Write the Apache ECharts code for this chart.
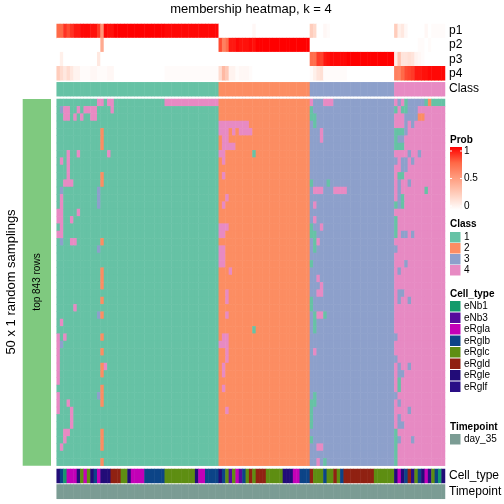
<!DOCTYPE html>
<html><head><meta charset="utf-8">
<script src="https://cdn.jsdelivr.net/npm/echarts/dist/echarts.min.js"></script>
<style>html,body{margin:0;padding:0;background:#fff}#c{width:504px;height:504px}</style>
</head><body><div id="c"></div>
<script>
// ---------- data ----------
const probRows = ['p1','p2','p3','p4'];
const probP1 = [0.74,0.74,0.88,0.82,0.88,0.94,0.94,0.98,0.98,0.98,0.96,0.96,0.86,0.54,0.98,0.96,0.96,
  1,1,1,1,1,1,1,1,1,1,1,1,1,1,1,
  0.98,0.98,0.98,0.98,0.98,0.98,0.98,0.98,0.98,0.98,0.98,0.98,0.98,0.98,0.98,0.98,
  0,0,0,0,0,0,0,0,0,0,0.04,0,0,0,0,0,0,0,0,0,0,0,0,0,0,0,0,
  0.26,0.2,0,0,0.04,0.02,0,0,0,0,0,0,0,0,0,0,0,0,0,0,0,0,0,0,0,
  0.26,0.08,0.12,0.04,0,0,0,0,0,0.04,0,0.02,0.02,0.02,0.02];
const probP2 = [0,0,0,0,0,0,0,0,0,0,0,0,0,0.44,0,0,0,0,0,0,0,0,0,0,0,0,0,0,0,0,0,0,0,0,0,0,0,0,0,0,0,0,0,0,0,0,0,0,
  0.82,0.64,0.72,0.94,0.94,0.98,0.96,0.96,0.96,0.98,0.96,1,1,1,1,1,1,1,1,1,1,1,1,1,1,1,1,
  0,0,0,0,0,0,0,0,0,0,0,0,0,0,0,0,0,0,0,0,0,0,0,0,0,
  0,0,0,0,0,0,0,0.02,0.02,0,0.02,0,0,0,0];
const probP3 = [0,0.08,0,0,0,0,0,0,0,0,0,0,0.12,0,0,0,0,0,0,0,0,0,0,0,0,0,0,0,0,0,0,0,0,0,0,0,0,0,0,0,0,0,0,0,0,0,0,0,
  0,0,0,0,0,0,0,0,0,0,0,0,0,0,0,0,0,0,0,0,0,0,0,0,0,0,0,
  0.72,0.72,0.86,0.84,0.94,0.96,0.98,0.98,0.98,0.98,0.98,1,1,1,1,1,1,1,1,1,1,1,1,1,1,
  0.1,0.3,0.14,0.14,0.16,0.14,0.06,0.04,0.02,0,0,0,0,0,0];
const probP4 = [0.26,0.18,0.12,0.18,0.12,0.06,0.06,0.02,0.02,0.02,0.04,0.04,0.02,0.02,0.02,0.04,0.04,
  0,0,0,0,0,0,0,0,0,0,0,0,0,0,0,
  0.02,0.02,0.02,0.02,0.02,0.02,0.02,0.02,0.02,0.02,0.02,0.02,0.02,0.02,0.02,0.02,
  0.18,0.36,0.28,0.06,0.06,0.02,0.04,0.04,0.04,0.02,0,0,0,0,0,0,0,0,0,0,0,0,0,0,0,0,0,
  0.02,0.08,0.14,0.16,0.02,0.02,0.02,0.02,0.02,0.02,0.02,0,0,0,0,0,0,0,0,0,0,0,0,0,0,
  0.64,0.62,0.74,0.82,0.84,0.86,0.94,0.94,0.96,0.96,0.98,0.98,0.98,0.98,0.98];

const classNames = [1,2,3,4];
const classColors = ['#66C2A5','#FC8D62','#8DA0CB','#E78AC3'];
const columnClass = [1,1,1,1,1,1,1,1,1,1,1,1,1,1,1,1,1,1,1,1,1,1,1,1,1,1,1,1,1,1,1,1,1,1,1,1,1,1,1,1,1,1,1,1,1,1,1,1,
  2,2,2,2,2,2,2,2,2,2,2,2,2,2,2,2,2,2,2,2,2,2,2,2,2,2,2,
  3,3,3,3,3,3,3,3,3,3,3,3,3,3,3,3,3,3,3,3,3,3,3,3,3,
  4,4,4,4,4,4,4,4,4,4,4,4,4,4,4];
// per sampling: [row, firstColumn, lastColumn, class]
const deviations = [
 [0,12,13,4],[0,15,16,4],[0,32,47,4],
 [1,1,1,3],[1,2,3,4],[1,6,6,4],[1,8,11,4],[1,16,16,4],
 [2,2,3,4],[2,5,5,4],[2,7,7,4],[2,10,11,4],
 [4,13,13,2],[5,13,13,2],[6,13,13,2],
 [7,3,3,4],[7,6,6,4],[7,15,15,4],
 [8,1,1,4],[8,3,3,4],[9,3,3,4],
 [10,3,3,4],[10,13,13,2],[11,2,4,4],[11,13,13,2],
 [12,1,1,3],[12,12,12,3],[13,1,1,4],[13,12,12,3],[14,1,1,4],[14,12,12,3],
 [15,0,1,4],[15,6,6,4],[16,0,1,4],[16,4,4,4],[17,1,1,4],[18,0,1,4],
 [19,1,1,3],[19,4,5,4],[19,13,13,2],[20,12,12,3],
 [23,13,13,2],[24,13,13,2],[25,13,13,2],[27,13,13,2],[28,5,5,4],
 [29,12,12,3],[29,13,13,2],[30,1,1,4],
 [32,0,0,4],[32,2,2,4],[32,13,13,2],[33,0,0,4],[33,1,1,3],
 [34,0,0,4],[34,13,13,2],[35,0,0,4],[36,0,0,4],[36,13,13,2],[36,14,14,4],
 [37,0,0,4],[37,13,13,2],[38,0,0,4],[39,13,13,2],
 [40,0,0,4],[40,12,12,3],[40,13,13,2],[41,0,0,4],[41,3,3,4],[41,13,13,2],
 [42,0,0,4],[42,4,4,4],[43,4,4,4],[44,4,4,4],
 [45,2,3,4],[45,13,13,2],[46,2,2,4],[46,13,13,2],[47,1,1,4],[47,13,13,2],[49,13,13,2],
 [3,48,56,4],[4,48,50,4],[4,52,52,4],[4,54,57,4],[5,49,50,4],[6,49,52,4],
 [7,48,49,4],[7,58,58,1],[8,49,49,4],[10,49,49,4],[13,50,50,4],[14,49,49,4],
 [17,48,50,4],[18,48,49,4],[20,48,49,4],[21,48,49,4],[22,48,49,4],[23,51,51,4],
 [26,50,50,4],[27,50,50,4],[29,50,50,4],[31,58,58,1],[32,49,50,4],[33,48,50,4],
 [34,50,50,4],[35,50,50,4],[36,49,49,4],[37,49,49,4],[39,49,49,4],[42,50,50,4],
 [0,75,75,4],[0,79,81,4],[1,75,75,1],[2,75,76,1],[3,76,76,1],[4,78,78,4],[5,78,78,4],
 [11,75,75,1],[11,80,80,1],[12,76,78,4],[12,82,85,4],[14,76,76,4],[16,76,76,4],
 [17,75,75,1],[17,78,78,4],[18,75,76,1],[19,76,76,1],[19,77,77,4],[20,76,76,1],
 [22,75,75,1],[24,77,77,4],[25,78,78,4],[26,77,78,4],[27,75,75,1],[28,75,75,1],
 [29,76,76,1],[29,77,78,4],[29,79,79,1],[30,76,76,1],[31,76,76,1],[34,76,76,4],
 [40,76,76,1],[41,75,76,1],[42,75,75,1],[43,75,75,1],[44,75,75,1],[46,75,75,1],
 [47,77,78,4],[49,77,77,4],[49,79,79,1],
 [0,101,101,3],[0,103,103,1],[0,104,108,3],[0,109,109,1],[0,110,110,2],[0,111,114,1],
 [1,100,100,1],[1,102,103,1],[1,104,106,3],[2,103,106,3],[2,107,108,2],
 [3,103,103,3],[3,105,105,3],[4,100,102,1],[4,103,103,3],[5,100,100,1],[5,101,102,3],
 [6,100,102,1],[7,104,104,3],[7,107,107,3],[8,100,100,3],[8,102,103,3],[8,105,105,3],
 [9,102,103,3],[10,101,102,1],[11,101,101,3],[11,104,104,3],[12,101,101,3],[12,109,109,1],
 [13,101,101,3],[13,102,102,1],[14,100,100,1],[14,101,101,3],[14,102,102,1],
 [16,100,100,1],[17,100,100,1],[18,100,100,1],[18,102,103,3],[18,105,105,3],
 [20,100,100,3],[22,103,103,3],[23,101,101,3],[26,101,102,3],[27,101,101,3],[27,104,104,3],
 [32,100,100,3],[35,100,100,3],[36,101,101,3],[36,104,104,3],[37,101,102,3],
 [38,101,101,1],[39,101,101,1],[40,100,100,3],[41,101,101,3],[42,104,104,3],
 [43,101,101,3],[44,101,102,3],[45,100,100,1],[46,100,100,1],[46,101,101,3],[46,105,105,3],
 [47,100,100,1],[48,100,100,1],[49,100,100,1]
];
const nSamplings = 50;

const cellTypeNames = ['eNb1','eNb3','eRgla','eRglb','eRglc','eRgld','eRgle','eRglf'];
const cellTypeColors = ['#139A6B','#560C9C','#C300B7','#0C4487','#5E8E12','#902112','#220C78','#2A0E86'];
const cellType = [6,3,0,2,2,2,6,4,2,4,6,3,2,6,6,6,5,5,5,4,4,6,2,2,2,2,3,3,3,3,3,3,
  4,4,4,4,4,4,4,4,4,6,2,2,3,3,3,3,
  6,3,4,1,4,2,1,3,4,5,4,5,5,5,4,4,4,4,4,6,6,6,2,2,3,3,3,
  5,4,4,4,3,4,4,5,4,3,5,5,5,5,5,5,5,5,5,4,4,4,4,4,4,
  6,2,6,3,5,7,4,3,6,2,7,4,3,0,6];
const timepointNames = ['day_35'];
const timepointColors = ['#7B9C94'];
const timepoint = cellType.map(() => 0);

// ---------- build ----------
const nCol = columnClass.length;
const cols = columnClass.map((_, i) => i);
const rows = Array.from({length: nSamplings}, (_, i) => i);
const probs = [probP1, probP2, probP3, probP4];
const probData = [];
probs.forEach((arr, r) => arr.forEach((v, c) => probData.push([c, r, v])));
const classData = columnClass.map((v, c) => [c, 0, v]);
const member = rows.map(() => columnClass.slice());
deviations.forEach(([r, a, b, k]) => { for (let c = a; c <= b; c++) member[r][c] = k; });
const mainData = [];
member.forEach((row, r) => row.forEach((v, c) => mainData.push([c, r, v])));
const ctData = cellType.map((v, c) => [c, 0, v]);
const tpData = timepoint.map((v, c) => [c, 0, v]);

const L = 56.7, W = 388.3;
const FONT = 'Liberation Sans, Arial, Helvetica, sans-serif';
const grids = [
  {left: L, top: 24, width: W, height: 56.3},
  {left: L, top: 82.3, width: W, height: 13.9},
  {left: L, top: 99, width: W, height: 366.7},
  {left: L, top: 469, width: W, height: 14},
  {left: L, top: 484.5, width: W, height: 14.3}
];
const xAxes = grids.map((g, i) => ({type: 'category', gridIndex: i, data: cols, show: false, boundaryGap: true}));
const yAxes = [
  {type: 'category', gridIndex: 0, data: probRows, inverse: true, show: false},
  {type: 'category', gridIndex: 1, data: ['Class'], show: false},
  {type: 'category', gridIndex: 2, data: rows, inverse: true, show: false},
  {type: 'category', gridIndex: 3, data: ['Cell_type'], show: false},
  {type: 'category', gridIndex: 4, data: ['Timepoint'], show: false}
];
function hm(i, data) {
  return {type: 'heatmap', xAxisIndex: i, yAxisIndex: i, data: data, progressive: 0,
    itemStyle: {borderWidth: 0}, emphasis: {disabled: true}, silent: true};
}
const probStops = ['#FFFFFF','#FFCFBE','#FF9E81','#FF6846','#FF0000'];

const graphic = [];
function txt(x, y, s, opt) {
  graphic.push(Object.assign({type: 'text', x: x, y: y, silent: true,
    style: Object.assign({text: s, fill: '#000', font: (opt && opt.font) || ('12px ' + FONT),
      textAlign: 'left', textVerticalAlign: 'middle'}, (opt && opt.style) || {})}, (opt && opt.el) || {}));
}
function box(x, y, w, h, fill) {
  graphic.push({type: 'rect', silent: true, shape: {x: x, y: y, width: w, height: h}, style: {fill: fill}});
}
txt(251, 9, 'membership heatmap, k = 4', {font: '13px ' + FONT, style: {textAlign: 'center'}});
box(22.7, 99, 28.3, 366.7, '#7FC97F');
txt(37, 282, 'top 843 rows', {font: '10px ' + FONT, style: {textAlign: 'center'}, el: {rotation: Math.PI / 2}});
txt(11, 282, '50 x 1 random samplings', {font: '13px ' + FONT, style: {textAlign: 'center'}, el: {rotation: Math.PI / 2}});
probRows.forEach((p, i) => txt(449, 31 + 14.1 * i, p));
txt(449, 89, 'Class');
txt(449, 476, 'Cell_type');
txt(449, 491.5, 'Timepoint');
// legends
const LX = 450;
const BOLD = 'bold 10px ' + FONT, REG = '10px ' + FONT;
txt(LX, 140, 'Prob', {font: BOLD});
graphic.push({type: 'rect', silent: true, shape: {x: LX, y: 147, width: 12, height: 63},
  style: {fill: {type: 'linear', x: 0, y: 0, x2: 0, y2: 1, colorStops:
    probStops.slice().reverse().map((c, i) => ({offset: i / 4, color: c}))}}});
[[1, 151], [0.5, 178.5], [0, 206]].forEach(([v, y]) => {
  graphic.push({type: 'line', silent: true, shape: {x1: LX, y1: y, x2: LX + 2, y2: y}, style: {stroke: '#fff', lineWidth: 1}});
  graphic.push({type: 'line', silent: true, shape: {x1: LX + 10, y1: y, x2: LX + 12, y2: y}, style: {stroke: '#fff', lineWidth: 1}});
  txt(LX + 14, y, String(v), {font: REG});
});
txt(LX, 224, 'Class', {font: BOLD});
classNames.forEach((n, i) => { box(LX, 232 + 11 * i, 10.5, 10.5, classColors[i]); txt(LX + 14, 237.5 + 11 * i, String(n), {font: REG}); });
txt(LX, 294, 'Cell_type', {font: BOLD});
cellTypeNames.forEach((n, i) => { box(LX, 301 + 11.5 * i, 10.5, 10.5, cellTypeColors[i]); txt(LX + 14, 306.5 + 11.5 * i, n, {font: REG}); });
txt(LX, 427, 'Timepoint', {font: BOLD});
timepointNames.forEach((n, i) => { box(LX, 434 + 11.5 * i, 10.5, 10.5, timepointColors[i]); txt(LX + 14, 439.5 + 11.5 * i, n, {font: REG}); });

const chart = echarts.init(document.getElementById('c'), null, {renderer: 'canvas'});
chart.setOption({
  animation: false,
  backgroundColor: '#ffffff',
  grid: grids,
  xAxis: xAxes,
  yAxis: yAxes,
  visualMap: [
    {type: 'continuous', show: false, seriesIndex: 0, dimension: 2, min: 0, max: 1, inRange: {color: probStops}},
    {type: 'piecewise', show: false, seriesIndex: [1, 2], dimension: 2,
      pieces: classNames.map((n, i) => ({value: n, color: classColors[i]}))},
    {type: 'piecewise', show: false, seriesIndex: 3, dimension: 2,
      pieces: cellTypeNames.map((n, i) => ({value: i, color: cellTypeColors[i]}))},
    {type: 'piecewise', show: false, seriesIndex: 4, dimension: 2,
      pieces: timepointNames.map((n, i) => ({value: i, color: timepointColors[i]}))}
  ],
  series: [hm(0, probData), hm(1, classData), hm(2, mainData), hm(3, ctData), hm(4, tpData)],
  graphic: graphic
});
</script>
</body></html>
